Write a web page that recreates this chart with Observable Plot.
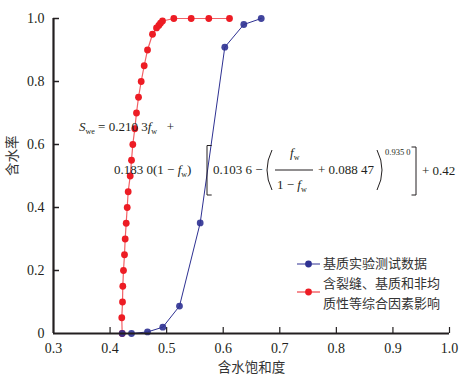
<!DOCTYPE html>
<html>
<head>
<meta charset="utf-8">
<script src="https://cdn.jsdelivr.net/npm/d3@7"></script>
<script src="https://cdn.jsdelivr.net/npm/@observablehq/plot@0.6"></script>
<style>
  html, body { margin: 0; padding: 0; background: #fff; }
  #wrap { position: relative; width: 471px; height: 385px; }
  #ann { position: absolute; left: 0; top: 0; width: 471px; height: 385px; pointer-events: none;
         font-family: "Liberation Serif", "DejaVu Serif", serif; font-size: 13px; color: #231f20; }
  #ann .p { position: absolute; white-space: nowrap; line-height: 14px; }
  #ann .sub { font-size: 8px; vertical-align: -3px; }
  #ann .cjk { font-family: "Noto Sans CJK SC", sans-serif; font-size: 13px; color: #333; line-height: 14px; }
</style>
</head>
<body>
<div id="wrap"></div>
<script>
// ---- data ----
const xTicks = [0.3, 0.4, 0.5, 0.6, 0.7, 0.8, 0.9, 1.0];
const yTicks = [0, 0.2, 0.4, 0.6, 0.8, 1.0];

const seriesNames = ["基质实验测试数据", "含裂缝、基质和非均", "质性等综合因素影响"];

// matrix experimental data (blue)
const matrixSw = [0.4214, 0.4379, 0.4662, 0.4932, 0.5227, 0.5593, 0.6028, 0.6364, 0.6672];
const matrixFw = [0, 0, 0.005, 0.02, 0.087, 0.351, 0.909, 0.981, 1.0];

// combined factors (red)
const combSw = [0.4214, 0.4207, 0.4220, 0.4225, 0.4237, 0.4255, 0.4267, 0.4285, 0.4303, 0.4320,
                0.4356, 0.4379, 0.4402, 0.4437, 0.4467, 0.4503, 0.4550, 0.4603, 0.4662, 0.4750,
                0.4821, 0.4861, 0.4891, 0.4927, 0.5127, 0.5434, 0.5745, 0.6111];
const combFw = [0, 0.05, 0.10, 0.15, 0.20, 0.25, 0.30, 0.35, 0.40, 0.45,
                0.50, 0.55, 0.60, 0.65, 0.70, 0.75, 0.80, 0.85, 0.90, 0.95,
                0.970, 0.978, 0.985, 0.992, 1.0, 1.0, 1.0, 1.0];

const matrix = matrixSw.map((x, i) => ({x, y: matrixFw[i]}));
const comb = combSw.map((x, i) => ({x, y: combFw[i]}));

// ---- styles ----
const W = 471, H = 385, mL = 53, mR = 22, mT = 18, mB = 52;
const plotW = W - mL - mR, plotH = H - mT - mB;
const ink = "#231f20";
const red = "#ed1c24", blue = "#2e3192";

const chart = Plot.plot({
  width: W, height: H,
  marginLeft: mL, marginRight: mR, marginTop: mT, marginBottom: mB,
  style: {fontFamily: "'Liberation Serif', 'DejaVu Serif', serif", fontSize: "14px", color: ink, background: "#fff"},
  x: {domain: [0.3, 1.0]},
  y: {domain: [0, 1.0]},
  marks: [
    Plot.tickX(xTicks.slice(1), {x: d => d, insetTop: plotH - 6, stroke: ink, strokeWidth: 1.2}),
    Plot.tickY(yTicks.slice(1), {y: d => d, insetRight: plotW - 6, stroke: ink, strokeWidth: 1.5}),
    Plot.axisX({ticks: xTicks, tickSize: 0, tickPadding: 10, tickFormat: d => d.toFixed(1), label: null, fill: ink}),
    Plot.axisY({ticks: yTicks, tickSize: 0, tickPadding: 9, tickFormat: d => d === 0 ? "0" : d.toFixed(1), label: null, fill: ink}),
    Plot.line(comb, {x: "x", y: "y", stroke: red, strokeOpacity: 0.7, strokeWidth: 1.2}),
    Plot.dot(comb, {x: "x", y: "y", r: 3.4, fill: red}),
    Plot.line(matrix, {x: "x", y: "y", stroke: blue, strokeWidth: 1}),
    Plot.dot(matrix, {x: "x", y: "y", r: 3.4, fill: blue, fillOpacity: 0.9}),
    Plot.ruleY([0], {stroke: ink, strokeWidth: 2.2}),
    Plot.ruleX([0.3], {stroke: ink, strokeWidth: 2.2}),
    Plot.text(["含水饱和度"], {text: d => d, frameAnchor: "bottom", dy: 38, fontFamily: "Noto Sans CJK SC", fontSize: 13.5, fill: "#333"}),
    Plot.text(["含水率"], {text: d => d, frameAnchor: "left", dx: -41, rotate: -90, fontFamily: "Noto Sans CJK SC", fontSize: 13.5, fill: "#333"})
  ]
});

const wrap = document.getElementById("wrap");
wrap.appendChild(chart);

// ---- annotation overlay: formula & legend ----
const ann = document.createElement("div");
ann.id = "ann";
wrap.appendChild(ann);

function piece(left, cy, html, cls = "p", size) {
  const s = document.createElement("span");
  s.className = cls;
  s.style.left = left + "px";
  s.style.top = (cy - 7) + "px";
  if (size) s.style.fontSize = size + "px";
  s.innerHTML = html;
  ann.appendChild(s);
  return s;
}
const sub = t => `<span class="sub">${t}</span>`;

piece(79, 127, `<i>S</i>${sub("we")}&nbsp;=&nbsp;0.210&nbsp;3<i>f</i>${sub("w")}&nbsp;&nbsp;&nbsp;+`);
piece(114, 170, `0.183&nbsp;0(1&nbsp;−&nbsp;<i>f</i>${sub("w")})`);
piece(213, 170, `0.103&nbsp;6&nbsp;−`);
piece(290, 153, `<i>f</i>${sub("w")}`);
piece(277, 185, `1&nbsp;−&nbsp;<i>f</i>${sub("w")}`);
piece(318, 170, `+&nbsp;0.088&nbsp;47`);
piece(385, 152, `0.935&nbsp;0`, "p", 8.5);
piece(422, 171, `+&nbsp;0.42`);

const NS = "http://www.w3.org/2000/svg";
const svg = document.createElementNS(NS, "svg");
svg.setAttribute("width", W); svg.setAttribute("height", H);
svg.style.position = "absolute"; svg.style.left = "0"; svg.style.top = "0";
const paths = [
  "M211.7,145.5 H207 V195 H211.7",
  "M411.5,147 H416 V195 H411.5",
  "M272,150 Q262,170 272,190",
  "M377,150 Q387,170 377,190",
  "M275,170 H313"
];
for (const d of paths) {
  const p = document.createElementNS(NS, "path");
  p.setAttribute("d", d); p.setAttribute("fill", "none");
  p.setAttribute("stroke", ink); p.setAttribute("stroke-width", "1");
  svg.appendChild(p);
}
// legend swatches
const legend = [{c: blue, y: 264}, {c: red, y: 292}];
for (const L of legend) {
  const l = document.createElementNS(NS, "line");
  l.setAttribute("x1", 297); l.setAttribute("x2", 320);
  l.setAttribute("y1", L.y); l.setAttribute("y2", L.y);
  l.setAttribute("stroke", L.c); l.setAttribute("stroke-width", "1");
  svg.appendChild(l);
  const c = document.createElementNS(NS, "circle");
  c.setAttribute("cx", 308.5); c.setAttribute("cy", L.y); c.setAttribute("r", 3.4);
  c.setAttribute("fill", L.c);
  svg.appendChild(c);
}
ann.appendChild(svg);

piece(323, 263, seriesNames[0], "p cjk");
piece(323, 283, seriesNames[1], "p cjk");
piece(323, 302.5, seriesNames[2], "p cjk");
</script>
</body>
</html>
